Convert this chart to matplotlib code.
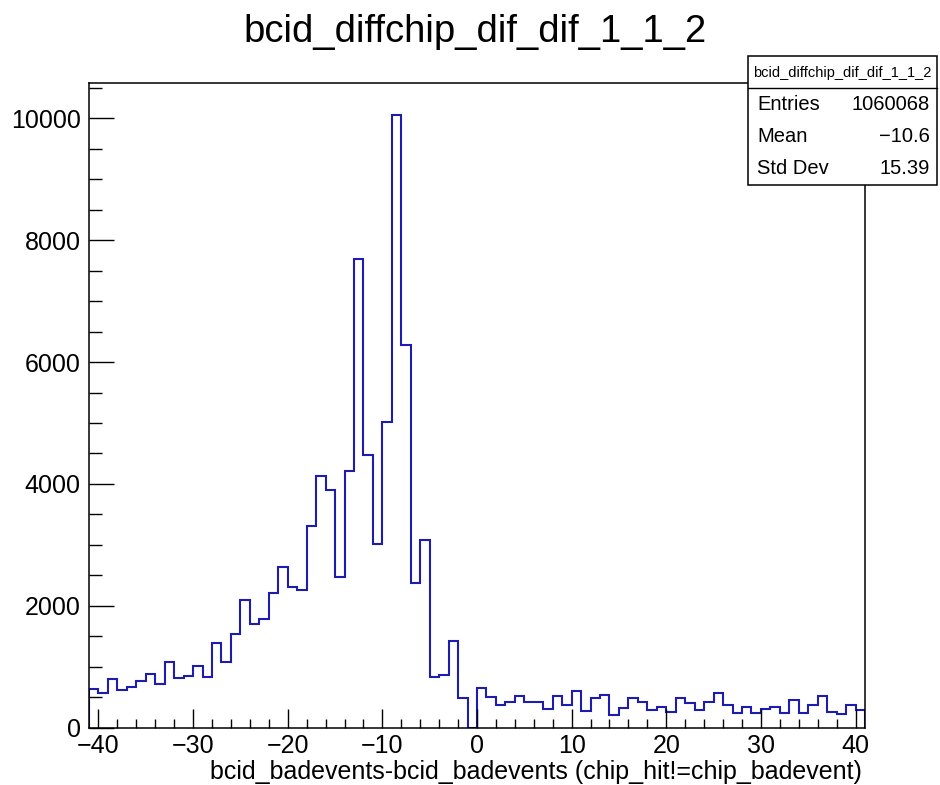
import numpy as np
import matplotlib
matplotlib.use('Agg')
import matplotlib.pyplot as plt
from matplotlib.ticker import MultipleLocator
from matplotlib.patches import Rectangle
from matplotlib.lines import Line2D

plt.rcParams['font.family'] = ['Liberation Sans', 'DejaVu Sans']

# Histogram: 82 bins of width 1 from -41 to 41
bin_lo = -41
bin_hi = 41
counts = [626, 561, 790, 615, 670, 763, 872, 708, 1080, 807,
          845, 1014, 834, 1381, 1075, 1534, 2092, 1693, 1780, 2212,
          2628, 2300, 2256, 3306, 4131, 3897, 2475, 4210, 7700, 4470,
          3020, 5010, 10050, 6275, 2380, 3080, 825, 855, 1415, 485,
          0,
          650, 506, 369, 424, 517, 420, 420, 310, 517, 369,
          595, 276, 485, 533, 200, 314, 485, 420, 280, 342,
          255, 485, 396, 280, 424, 561, 369, 246, 342, 246,
          304, 342, 246, 451, 246, 369, 518, 255, 221, 375,
          280]

title = 'bcid_diffchip_dif_dif_1_1_2'
xlabel = 'bcid_badevents-bcid_badevents (chip_hit!=chip_badevent)'
stats_names = ['Entries', 'Mean', 'Std Dev']
stats_values = ['1060068', '\u221210.6', '15.39']

edges = np.arange(bin_lo, bin_hi + 1)

fig = plt.figure(figsize=(9.4, 7.85), dpi=100)
ax = fig.add_axes([89 / 940, 1 - 727.5 / 785, (865 - 89) / 940, (727.5 - 82.5) / 785])

ax.stairs(counts, edges, color='#1c1cb0', linewidth=1.5)

ax.set_xlim(bin_lo, bin_hi)
ax.set_ylim(0, 10590)

ax.xaxis.set_major_locator(MultipleLocator(10))
ax.xaxis.set_minor_locator(MultipleLocator(2))
ax.yaxis.set_major_locator(MultipleLocator(2000))
ax.yaxis.set_minor_locator(MultipleLocator(500))

ax.tick_params(axis='both', which='both', direction='in', top=False, right=False,
               width=1.0, labelsize=18)
ax.tick_params(axis='x', which='major', length=13.5, pad=5)
ax.tick_params(axis='x', which='minor', length=6.8)
ax.tick_params(axis='y', which='major', length=18, pad=6)
ax.tick_params(axis='y', which='minor', length=9)

for sp in ax.spines.values():
    sp.set_linewidth(1.1)

fig.text(475 / 940, 1 - 32 / 785, title, ha='center', va='center', fontsize=27.5)
fig.text(862 / 940, 1 - 772 / 785, xlabel, ha='right', va='center', fontsize=18)

# stats box
bx0, bx1 = 748 / 940, 937 / 940
by0, by1 = 1 - 185 / 785, 1 - 56 / 785
fig.patches.append(Rectangle((bx0, by0), bx1 - bx0, by1 - by0, transform=fig.transFigure,
                             facecolor='white', edgecolor='black', linewidth=1.1, zorder=5))
fig.lines.append(Line2D([bx0, bx1], [1 - 88 / 785] * 2, transform=fig.transFigure,
                        color='black', linewidth=1.0, zorder=6))
fig.text((bx0 + bx1) / 2, 1 - 72.5 / 785, title, ha='center', va='center',
         fontsize=10.5, zorder=7)
row_y = [104, 136, 168]
for name, val, yy in zip(stats_names, stats_values, row_y):
    fig.text(757 / 940, 1 - yy / 785, name, ha='left', va='center', fontsize=14.5, zorder=7)
    fig.text(930 / 940, 1 - yy / 785, val, ha='right', va='center', fontsize=14.5, zorder=7)

fig.savefig('out.png', dpi=100)
